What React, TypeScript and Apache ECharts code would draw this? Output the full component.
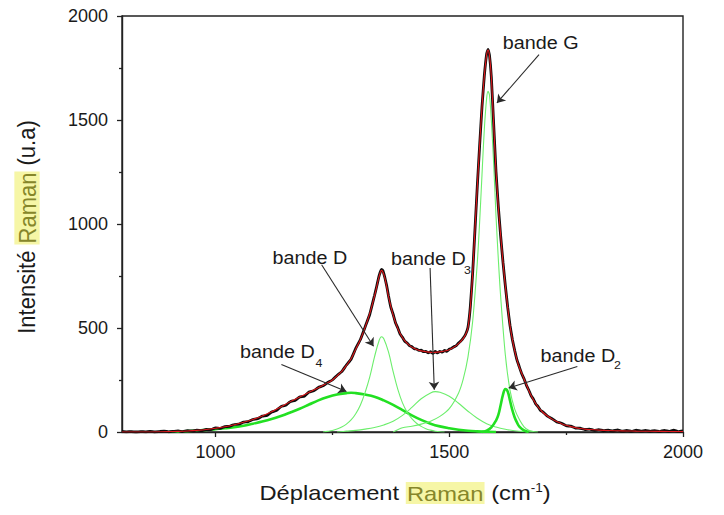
import React, { useEffect, useRef } from 'react';
import * as echarts from 'echarts';

// ---- Data (x: Raman shift cm-1, y: intensity u.a) ----
const spectrum: [number, number][] = [
  [800, 3], [810, 1], [820, 2], [830, 0], [840, 2], [850, 1], [860, 3], [870, 0], [880, 2], [890, 4],
  [900, 1], [910, 3], [920, 5], [930, 2], [940, 6], [950, 5], [960, 9], [970, 7], [980, 12], [990, 11],
  [1000, 20], [1010, 17], [1020, 26], [1030, 27], [1040, 36], [1050, 38], [1060, 47], [1070, 50], [1080, 60], [1090, 64],
  [1100, 76], [1110, 80], [1120, 96], [1130, 103], [1140, 122], [1150, 128], [1160, 146], [1170, 152], [1180, 168], [1190, 172],
  [1200, 192], [1210, 198], [1220, 214], [1230, 222], [1240, 238], [1250, 250], [1260, 272], [1270, 290], [1280, 322], [1290, 350],
  [1300, 402], [1310, 445], [1320, 505], [1330, 566], [1340, 655], [1345, 702], [1350, 752], [1355, 782], [1358, 776], [1362, 745],
  [1366, 705], [1370, 655], [1375, 600], [1380, 566], [1385, 525], [1390, 500], [1395, 470], [1400, 455], [1405, 436], [1410, 428],
  [1415, 415], [1420, 410], [1425, 400], [1430, 399], [1435, 392], [1440, 393], [1445, 386], [1450, 388], [1455, 380], [1460, 386],
  [1465, 378], [1470, 387], [1475, 380], [1480, 388], [1485, 384], [1490, 392], [1495, 388], [1500, 398], [1505, 402], [1510, 410],
  [1515, 415], [1520, 428], [1525, 438], [1530, 452], [1535, 470], [1540, 502], [1545, 600], [1550, 762], [1555, 972], [1560, 1182],
  [1565, 1378], [1570, 1562], [1575, 1712], [1580, 1818], [1583, 1840], [1586, 1812], [1590, 1708], [1595, 1482], [1600, 1252], [1605, 1083],
  [1610, 942], [1615, 815], [1620, 703], [1625, 600], [1630, 512], [1635, 445], [1640, 392], [1645, 345], [1650, 312], [1655, 280],
  [1660, 256], [1665, 225], [1670, 202], [1675, 175], [1680, 158], [1685, 135], [1690, 122], [1695, 104], [1700, 97], [1710, 76],
  [1720, 64], [1730, 48], [1740, 42], [1750, 30], [1760, 28], [1770, 19], [1780, 18], [1790, 12], [1800, 14], [1810, 8],
  [1820, 11], [1830, 6], [1840, 9], [1850, 5], [1860, 10], [1870, 4], [1880, 8], [1890, 3], [1900, 9], [1910, 4],
  [1920, 8], [1930, 3], [1940, 7], [1950, 2], [1960, 8], [1970, 3], [1980, 9], [1990, 2], [2000, 6],
];

const fit: [number, number][] = [
  [800, 0], [850, 0], [900, 2], [920, 3], [940, 5], [960, 8], [980, 12], [1000, 18], [1020, 25], [1040, 35],
  [1060, 47], [1080, 60], [1100, 77], [1120, 97], [1140, 121], [1160, 146], [1180, 168], [1200, 191], [1220, 213], [1240, 237],
  [1250, 250], [1260, 270], [1270, 291], [1280, 320], [1290, 352], [1300, 398], [1310, 445], [1320, 503], [1330, 570], [1340, 652],
  [1345, 700], [1350, 748], [1355, 777], [1360, 758], [1365, 712], [1370, 652], [1380, 562], [1390, 497], [1400, 453], [1410, 426],
  [1420, 408], [1430, 397], [1440, 390], [1450, 386], [1460, 383], [1470, 383], [1480, 385], [1490, 389], [1500, 396], [1510, 408],
  [1520, 425], [1530, 450], [1535, 469], [1540, 500], [1545, 598], [1550, 760], [1555, 975], [1560, 1180], [1565, 1380], [1570, 1560],
  [1575, 1710], [1580, 1815], [1583, 1836], [1586, 1810], [1590, 1708], [1595, 1480], [1600, 1255], [1605, 1080], [1610, 945], [1615, 815],
  [1620, 702], [1625, 600], [1630, 510], [1635, 445], [1640, 390], [1645, 346], [1650, 310], [1660, 255], [1670, 200], [1680, 155],
  [1690, 120], [1700, 95], [1710, 77], [1720, 62], [1730, 50], [1740, 40], [1750, 32], [1760, 26], [1770, 21], [1780, 17],
  [1790, 14], [1800, 12], [1820, 9], [1840, 7], [1860, 6], [1880, 5], [1900, 4], [1950, 3], [2000, 2],
];

const bandD4: [number, number][] = [
  [900, 0], [920, 2], [940, 4], [960, 7], [980, 10], [1000, 14], [1020, 18], [1040, 23], [1060, 30], [1080, 40],
  [1100, 50], [1120, 62], [1140, 77], [1160, 94], [1180, 112], [1200, 132], [1220, 152], [1240, 168], [1260, 180], [1280, 187],
  [1290, 189], [1300, 187], [1320, 180], [1340, 170], [1360, 152], [1380, 130], [1400, 105], [1420, 80], [1440, 58], [1460, 40],
  [1480, 27], [1500, 18], [1520, 11], [1540, 6], [1560, 3], [1580, 1], [1600, 0],
];

const bandD: [number, number][] = [
  [1230, 0], [1240, 3], [1250, 7], [1260, 14], [1270, 24], [1280, 38], [1290, 58], [1300, 88], [1310, 130], [1320, 190],
  [1330, 265], [1340, 360], [1350, 440], [1355, 458], [1360, 448], [1370, 385], [1380, 290], [1390, 205], [1400, 140], [1410, 95],
  [1420, 64], [1430, 42], [1440, 27], [1450, 16], [1460, 9], [1470, 4], [1480, 1], [1490, 0],
];

const bandD3: [number, number][] = [
  [1260, 0], [1280, 4], [1300, 8], [1320, 14], [1340, 22], [1360, 34], [1380, 52], [1400, 80], [1420, 118], [1440, 160],
  [1460, 188], [1470, 194], [1480, 191], [1500, 172], [1520, 138], [1540, 100], [1560, 66], [1580, 40], [1600, 24], [1620, 13],
  [1640, 6], [1660, 2], [1680, 0],
];

const bandG: [number, number][] = [
  [1380, 0], [1400, 20], [1420, 28], [1440, 38], [1460, 52], [1480, 75], [1500, 112], [1520, 188], [1530, 255], [1540, 360],
  [1550, 530], [1560, 815], [1565, 1010], [1570, 1235], [1575, 1455], [1580, 1605], [1583, 1638], [1586, 1620], [1590, 1500], [1595, 1290],
  [1600, 1040], [1605, 830], [1610, 650], [1620, 370], [1630, 200], [1640, 110], [1650, 60], [1660, 25], [1670, 8], [1680, 2], [1690, 0],
];

const bandD2: [number, number][] = [
  [1570, 0], [1580, 6], [1590, 22], [1600, 55], [1605, 82], [1610, 130], [1615, 180], [1620, 207], [1625, 195], [1630, 150],
  [1635, 105], [1640, 70], [1645, 45], [1650, 26], [1660, 8], [1670, 0],
];

const xTickValues = [1000, 1500, 2000];
const xMinorTickValues = [1250, 1750];

// Annotation arrows: [label start point, arrow tip] in data coordinates
const arrows: [[number, number], [number, number]][] = [
  [[1692, 1814], [1602, 1582]],
  [[1227, 804], [1338, 412]],
  [[1459, 788], [1468, 203]],
  [[1141, 324], [1280, 195]],
  [[1774, 315], [1627, 212]],
];

const FONT = 'Liberation Sans, Arial, Helvetica, sans-serif';
const TEXT = '#1a1a1a';
const SX = 1.13;

export default function App() {
  const ref = useRef<HTMLDivElement>(null);

  useEffect(() => {
    if (!ref.current) return;
    const chart = echarts.init(ref.current, undefined, { renderer: 'svg' });
    const thin = '#6cee6c';
    const thick = '#22e022';

    const label = (x: number, y: number, text: string, size = 17.5) => ({
      type: 'text',
      x,
      y,
      scaleX: SX,
      z: 100,
      style: {
        text,
        fontSize: size,
        fontFamily: FONT,
        fill: TEXT,
        textAlign: 'left',
        textVerticalAlign: 'middle',
      },
    });

    chart.setOption({
      animation: false,
      backgroundColor: '#ffffff',
      grid: {
        left: 122,
        right: 41,
        top: 16,
        bottom: 83,
        show: true,
        borderColor: '#222',
        borderWidth: 1.4,
        backgroundColor: 'transparent',
        containLabel: false,
        outerBoundsMode: 'none',
      },
      xAxis: [
        {
          type: 'value',
          min: 800,
          max: 2000,
          axisLine: { show: true, lineStyle: { color: '#222', width: 1.4 } },
          axisTick: { show: true, inside: false, length: 5, customValues: xTickValues, lineStyle: { color: '#222', width: 1.3 } },
          axisLabel: { customValues: xTickValues, margin: 11, fontSize: 18, fontFamily: FONT, color: TEXT, formatter: (v: number) => String(v) },
          splitLine: { show: false },
        },
        {
          type: 'value',
          min: 800,
          max: 2000,
          position: 'bottom',
          axisLine: { show: false },
          axisTick: { show: true, inside: false, length: 3, customValues: xMinorTickValues, lineStyle: { color: '#222', width: 1.3 } },
          axisLabel: { show: false },
          splitLine: { show: false },
        },
      ],
      yAxis: {
        type: 'value',
        min: 0,
        max: 2000,
        interval: 500,
        axisLine: { show: true, lineStyle: { color: '#222', width: 1.4 } },
        axisTick: { show: true, inside: false, length: 5, lineStyle: { color: '#222', width: 1.3 } },
        minorTick: { show: true, splitNumber: 2, length: 3, lineStyle: { color: '#222', width: 1.3 } },
        axisLabel: { margin: 14, fontSize: 18, fontFamily: FONT, color: TEXT, formatter: (v: number) => String(v) },
        splitLine: { show: false },
      },
      series: [
        { name: 'D4', type: 'line', data: bandD4, showSymbol: false, smooth: 0.4, lineStyle: { color: thick, width: 2.6 }, z: 2 },
        { name: 'D', type: 'line', data: bandD, showSymbol: false, smooth: 0.4, lineStyle: { color: thin, width: 1.1 }, z: 2 },
        { name: 'D3', type: 'line', data: bandD3, showSymbol: false, smooth: 0.4, lineStyle: { color: thin, width: 1.1 }, z: 2 },
        { name: 'G', type: 'line', data: bandG, showSymbol: false, smooth: 0.3, lineStyle: { color: thin, width: 1.1 }, z: 2 },
        { name: 'D2', type: 'line', data: bandD2, showSymbol: false, smooth: 0.4, lineStyle: { color: thick, width: 2.6 }, z: 2 },
        { name: 'Spectre', type: 'line', data: spectrum, showSymbol: false, smooth: 0.1, lineStyle: { color: '#0d0d0d', width: 2.8 }, z: 3 },
        {
          name: 'Ajustement',
          type: 'line',
          data: fit,
          showSymbol: false,
          smooth: 0.3,
          lineStyle: { color: '#e0181c', width: 1.1 },
          z: 4,
          markLine: {
            silent: true,
            symbol: ['none', 'arrow'],
            symbolSize: 8,
            label: { show: false },
            emphasis: { disabled: true },
            lineStyle: { color: '#2a2a2a', width: 1.1, type: 'solid' },
            data: arrows.map(([a, b]) => [{ coord: a }, { coord: b }]),
          },
        },
      ],
      graphic: [
        label(502.7, 43, 'bande G'),
        label(272.5, 258, 'bande D'),
        label(391, 259, 'bande D'),
        label(464, 270, '3', 11),
        label(240, 352, 'bande D'),
        label(315.5, 363, '4', 11),
        label(540.5, 356, 'bande D'),
        label(614, 365, '2', 11),
        {
          type: 'text',
          x: 27,
          y: 227,
          rotation: Math.PI / 2,
          scaleY: 1.1,
          style: {
            text: 'Intensité {h|Raman} (u.a)',
            fontSize: 22,
            fontFamily: FONT,
            fill: TEXT,
            textAlign: 'center',
            textVerticalAlign: 'middle',
            rich: {
              h: { fontSize: 22, fontFamily: FONT, fill: '#86862a', color: '#86862a', backgroundColor: '#f6f6a6', padding: [1, 1, 0, 1] },
            },
          },
        },
        {
          type: 'text',
          x: 405,
          y: 493,
          scaleX: SX,
          style: {
            text: 'Déplacement {h|Raman} (cm{s|-1})',
            fontSize: 21,
            fontFamily: FONT,
            fill: TEXT,
            textAlign: 'center',
            textVerticalAlign: 'middle',
            rich: {
              h: { fontSize: 21, fontFamily: FONT, fill: '#86862a', color: '#86862a', backgroundColor: '#f6f6a6', padding: [1, 1, 0, 1] },
              s: { fontSize: 12, fontFamily: FONT, fill: TEXT, color: TEXT, verticalAlign: 'top' },
            },
          },
        },
      ],
    });

    return () => chart.dispose();
  }, []);

  return (
    <div
      ref={ref}
      style={{ position: 'fixed', left: 0, top: 0, width: 724, height: 515, background: '#fff' }}
    />
  );
}
